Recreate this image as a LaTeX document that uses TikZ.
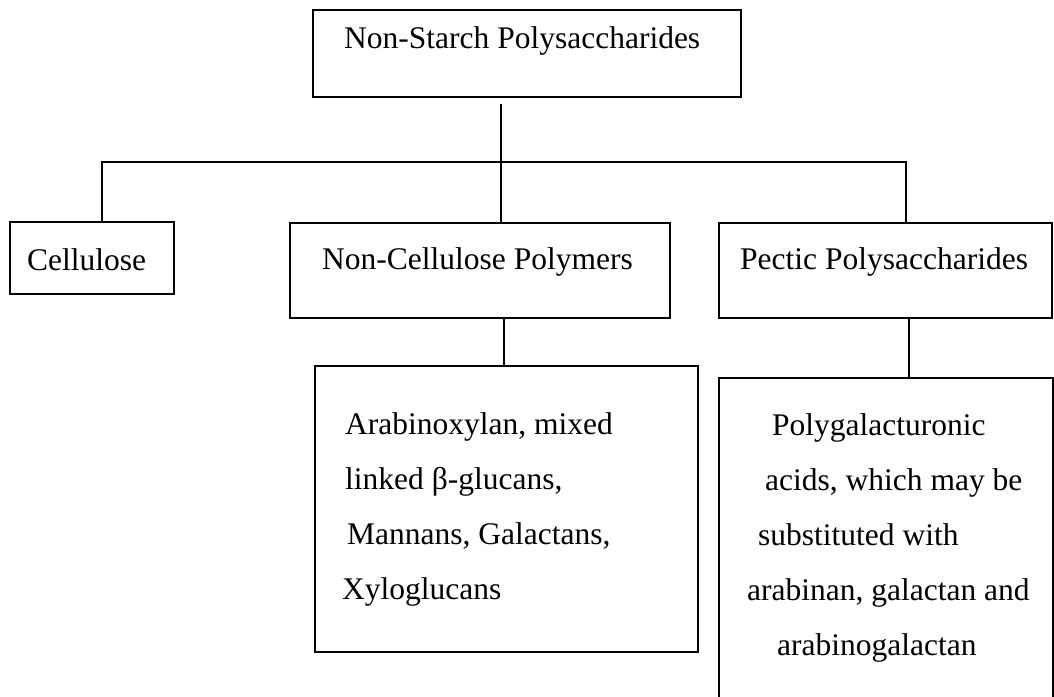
\documentclass[tikz,border=0pt]{standalone}
\usepackage{fontspec}
\setmainfont{Liberation Serif}
\begin{document}
\begin{tikzpicture}[x=1pt,y=-1pt,
  box/.style={draw,line width=1.9pt,anchor=north west,inner sep=0pt},
  txt/.style={anchor=base west,inner sep=0pt,font=\fontsize{31.5}{55}\selectfont},
  para/.style={anchor=north west,inner sep=0pt,align=left,font=\fontsize{31.5}{55}\selectfont},
  link/.style={line width=1.9pt}]
  \useasboundingbox (0,0) rectangle (1054,696);
  \node[box,minimum width=428pt,minimum height=87pt] (nsp) at (312,9) {};
  \node[box,minimum width=164pt,minimum height=72pt] (cell) at (9,221) {};
  \node[box,minimum width=380pt,minimum height=95pt] (ncp) at (289,222) {};
  \node[box,minimum width=333pt,minimum height=95pt] (pect) at (718,222) {};
  \node[box,minimum width=383pt,minimum height=286pt] (ncpsub) at (314,365) {};
  \node[box,minimum width=334pt,minimum height=340pt] (pectsub) at (718,377) {};
  \node[txt] (nsptxt) at (344,48) {Non-Starch Polysaccharides};
  \node[txt] (celltxt) at (27,270) {Cellulose};
  \node[txt] (ncptxt) at (322,269) {Non-Cellulose Polymers};
  \node[txt] (pecttxt) at (740,269) {Pectic Polysaccharides};
  \node[para] (ncpsubtxt) at (345,412) {Arabinoxylan, mixed\\
    linked β-glucans,\\
    \hspace*{2pt}Mannans, Galactans,\\
    \hspace*{-3pt}Xyloglucans};
  \node[para] (pectsubtxt) at (747,413) {\hspace*{25pt}Polygalacturonic\\
    \hspace*{18pt}acids, which may be\\
    \hspace*{11pt}substituted with\\
    arabinan, galactan and\\
    \hspace*{30pt}arabinogalactan};
  \coordinate (bar) at (501,162);
  \coordinate (barL) at (102,162);
  \coordinate (barR) at (906,162);
  \draw[link] ([yshift=-6pt]nsp.south -| bar) -- (bar |- ncp.north);
  \draw[link] (cell.north -| barL) -- (barL) -- (barR) -- (pect.north -| barR);
  \draw[link] ([xshift=24pt]ncp.south) -- ([xshift=24pt]ncp.south |- ncpsub.north);
  \draw[link] ([xshift=23.5pt]pect.south) -- ([xshift=23.5pt]pect.south |- pectsub.north);
\end{tikzpicture}
\end{document}
